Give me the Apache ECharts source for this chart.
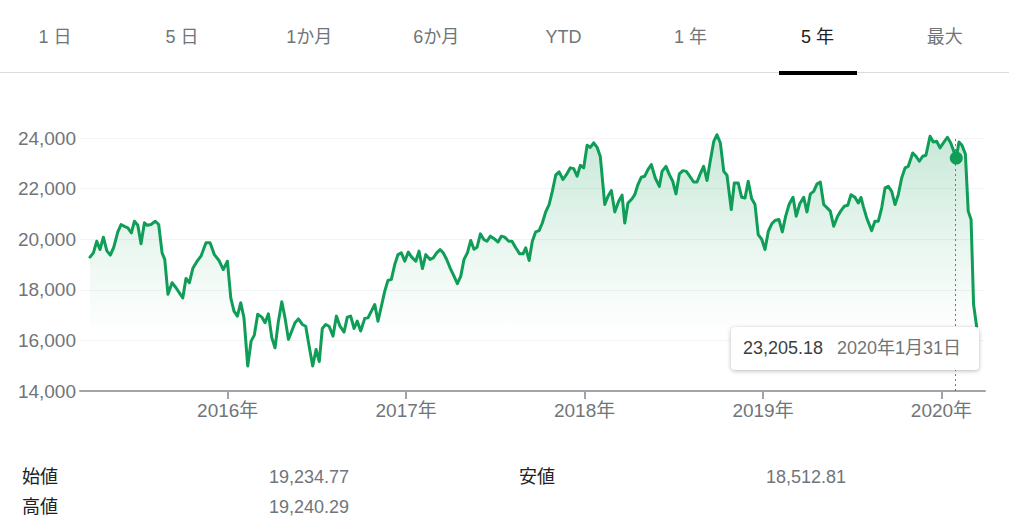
<!DOCTYPE html>
<html><head><meta charset="utf-8">
<script src="https://cdn.jsdelivr.net/npm/echarts@6/dist/echarts.min.js"></script>
<style>
html,body{margin:0;padding:0;background:#fff;}
body{width:1009px;height:519px;overflow:hidden;position:relative;font-family:"Liberation Sans",Arial,"Noto Sans CJK JP",sans-serif;}
#chart{position:absolute;left:0;top:0;width:1009px;height:519px;}
.tab{position:absolute;top:26px;font-size:18px;line-height:22px;color:#70757a;transform:translateX(-50%);white-space:nowrap;}
.tab.sel{color:#202124;}
#sep{position:absolute;left:0;top:72px;width:1009px;height:1px;background:#dadce0;}
#bar{position:absolute;left:779px;top:71px;width:78px;height:4px;background:#000;}
.st{position:absolute;font-size:18px;line-height:20px;white-space:nowrap;}
.lbl{color:#202124;}
.val{color:#70757a;}
#tip{position:absolute;left:731px;top:327px;width:248px;height:43px;background:#fff;border-radius:4px;box-shadow:0 1px 4px rgba(0,0,0,0.28);font-size:18px;line-height:43px;white-space:nowrap;}
#tip .p{position:absolute;left:12px;color:#3c4043;}
#tip .d{position:absolute;left:106px;color:#70757a;}
</style></head>
<body>
<div id="chart"></div>
<div id="hdr"></div>
<div id="sep"></div><div id="bar"></div>
<div id="stats"></div>
<div id="tip"><span class="p"></span><span class="d"></span></div>
<script>
// Tabs
const tabs = ['1 日','5 日','1か月','6か月','YTD','1 年','5 年','最大'];
const selectedTab = '5 年';
// Stats
const statLabels = ['始値','安値','高値'];
const statValues = ['19,234.77','18,512.81','19,240.29'];
// Highlighted point
const tipDate = 2020.083;
const tipValue = 23205.18;
const tipDateText = '2020年1月31日';
// X ticks (years)
const yearTicks = [2016, 2017, 2018, 2019, 2020];
// Series: date (decimal year) and Nikkei weekly close
const years = [
2015.228,2015.247,2015.266,2015.284,2015.303,2015.322,2015.342,2015.361,2015.384,2015.402,
2015.421,2015.440,2015.460,2015.477,2015.496,2015.514,2015.533,2015.548,2015.570,2015.594,
2015.613,2015.632,2015.647,2015.665,2015.688,2015.710,2015.729,2015.748,2015.766,2015.785,
2015.804,2015.828,2015.850,2015.878,2015.901,2015.925,2015.951,2015.975,2015.998,2016.017,
2016.035,2016.054,2016.073,2016.091,2016.112,2016.131,2016.149,2016.168,2016.191,2016.209,
2016.228,2016.247,2016.265,2016.284,2016.303,2016.321,2016.340,2016.359,2016.377,2016.396,
2016.418,2016.437,2016.456,2016.476,2016.495,2016.513,2016.530,2016.549,2016.568,2016.590,
2016.609,2016.629,2016.652,2016.670,2016.689,2016.708,2016.726,2016.745,2016.768,2016.786,
2016.805,2016.824,2016.842,2016.861,2016.880,2016.898,2016.917,2016.936,2016.954,2016.973,
2016.992,2017.012,2017.031,2017.054,2017.072,2017.091,2017.110,2017.134,2017.152,2017.171,
2017.190,2017.208,2017.227,2017.246,2017.268,2017.287,2017.306,2017.324,2017.343,2017.362,
2017.380,2017.397,2017.416,2017.435,2017.453,2017.472,2017.491,2017.515,2017.533,2017.552,
2017.575,2017.593,2017.614,2017.636,2017.655,2017.670,2017.689,2017.707,2017.726,2017.745,
2017.763,2017.782,2017.801,2017.819,2017.838,2017.857,2017.879,2017.898,2017.920,2017.939,
2017.958,2017.976,2017.995,2018.014,2018.032,2018.051,2018.070,2018.088,2018.113,2018.131,
2018.150,2018.169,2018.191,2018.210,2018.225,2018.243,2018.266,2018.281,2018.299,2018.318,
2018.337,2018.355,2018.374,2018.396,2018.419,2018.434,2018.456,2018.475,2018.494,2018.512,
2018.531,2018.551,2018.570,2018.589,2018.611,2018.630,2018.648,2018.667,2018.686,2018.704,
2018.724,2018.742,2018.761,2018.780,2018.798,2018.822,2018.839,2018.861,2018.880,2018.899,
2018.917,2018.936,2018.955,2018.973,2018.993,2019.011,2019.030,2019.049,2019.067,2019.089,
2019.108,2019.127,2019.146,2019.168,2019.186,2019.206,2019.228,2019.246,2019.265,2019.284,
2019.302,2019.321,2019.340,2019.359,2019.377,2019.396,2019.418,2019.437,2019.455,2019.475,
2019.493,2019.515,2019.534,2019.549,2019.562,2019.581,2019.609,2019.627,2019.646,2019.665,
2019.684,2019.702,2019.721,2019.740,2019.758,2019.777,2019.796,2019.814,2019.839,2019.857,
2019.876,2019.895,2019.913,2019.936,2019.954,2019.973,2019.992,2020.010,2020.033,2020.052,
2020.083,2020.098,2020.115,2020.134,2020.150,2020.166,2020.180,2020.197
];
const values = [
19290,19460,19920,19590,20080,19550,19370,19680,20290,20580,
20510,20450,20250,20710,20550,19820,20650,20550,20580,20710,
20580,19460,19200,17820,18280,18080,17880,17680,18450,18280,
18840,19130,19330,19860,19860,19390,19160,18800,19130,17680,
17160,16960,17490,16890,14990,15970,16210,17030,16920,16700,
17050,16100,15710,16760,17530,16890,16040,16370,16700,16850,
16630,16560,15780,14990,15640,15160,16470,16630,16560,16170,
16960,16560,16330,16920,16960,16470,16760,16370,16870,16890,
17160,17420,16760,17350,17950,18370,18410,19000,19390,19460,
19130,19490,19290,19130,19530,18840,19390,19200,19260,19460,
19590,19460,19200,18870,18540,18240,18540,19200,19460,19950,
19600,19680,20210,19990,19920,20120,20030,19890,20120,20080,
19920,19920,19660,19420,19420,19660,19160,19920,20290,20340,
20640,21080,21370,21890,22530,22660,22360,22550,22820,22790,
22490,22920,22820,23710,23630,23810,23630,23270,21370,21700,
21920,21080,21500,21740,20640,21430,21600,21760,22160,22450,
22490,22750,22950,22420,22090,22680,22880,22550,22290,21790,
22580,22710,22680,22490,22260,22260,22580,22880,22320,23080,
23870,24130,23800,22680,22530,21170,22220,22220,21660,21630,
22290,21610,21370,20180,19990,19590,20320,20610,20740,20780,
20290,20910,21370,21660,20910,21400,21660,21080,21790,21890,
22180,22260,21370,21240,21110,20510,20910,21130,21300,21340,
21760,21660,21430,21650,21300,20840,20340,20710,20710,21240,
22030,22090,21890,21370,21760,22420,22820,22880,23410,23280,
23080,23280,23320,24070,23840,23870,23610,23800,24030,23800,
23205.18,23840,23710,23370,21110,20780,17420,16550
];

// Build header / stats / tooltip DOM text
const tabCenters0 = 55, tabStep = 127.1;
const hdr = document.getElementById('hdr');
tabs.forEach((t, i) => {
  const d = document.createElement('div');
  d.className = 'tab' + (t === selectedTab ? ' sel' : '');
  d.style.left = (tabCenters0 + tabStep * i) + 'px';
  d.textContent = t;
  hdr.appendChild(d);
});
const stats = document.getElementById('stats');
const statPos = [[22, 269, 467], [519, 766, 467], [22, 269, 497]];
statLabels.forEach((l, i) => {
  const [lx, vx, y] = statPos[i];
  const a = document.createElement('div'); a.className = 'st lbl'; a.style.left = lx + 'px'; a.style.top = y + 'px'; a.textContent = l; stats.appendChild(a);
  const b = document.createElement('div'); b.className = 'st val'; b.style.left = vx + 'px'; b.style.top = y + 'px'; b.textContent = statValues[i]; stats.appendChild(b);
});
document.querySelector('#tip .p').textContent = tipValue.toLocaleString('en-US', {minimumFractionDigits: 2});
document.querySelector('#tip .d').textContent = tipDateText;

const chart = echarts.init(document.getElementById('chart'), null, {renderer: 'svg'});
const FONT = '"Liberation Sans", Arial, "Noto Sans CJK JP", sans-serif';
chart.setOption({
  animation: false,
  grid: {left: 80, right: 24, top: 138, bottom: 128},
  xAxis: {
    type: 'value', min: 2015.172, max: 2020.244,
    axisLine: {lineStyle: {color: '#a0a4a8', width: 2}},
    axisTick: {customValues: yearTicks, length: 8, lineStyle: {color: '#a0a4a8', width: 2}},
    axisLabel: {customValues: yearTicks, formatter: v => v + '年', color: '#70757a', fontSize: 19, fontFamily: FONT, margin: 10},
    splitLine: {show: false}
  },
  yAxis: {
    type: 'value', min: 14000, max: 24000, interval: 2000,
    axisLine: {show: false}, axisTick: {show: false},
    axisLabel: {formatter: v => v.toLocaleString('en-US'), color: '#70757a', fontSize: 19, fontFamily: FONT, margin: 4},
    splitLine: {lineStyle: {color: '#f1f3f4', width: 1}}
  },
  series: [{
    type: 'line',
    data: years.map((y, i) => [y, values[i]]),
    symbol: 'none', clip: false,
    lineStyle: {color: '#0f9d58', width: 3, join: 'round', cap: 'round'},
    areaStyle: {color: new echarts.graphic.LinearGradient(0, 0, 0, 1, [
      {offset: 0, color: 'rgba(15,157,88,0.33)'},
      {offset: 0.45, color: 'rgba(15,157,88,0.12)'},
      {offset: 0.78, color: 'rgba(15,157,88,0)'}
    ])},
    markLine: {
      silent: true, symbol: 'none', label: {show: false},
      lineStyle: {color: '#70757a', type: [2, 3], width: 1},
      data: [{xAxis: tipDate}]
    },
    z: 2
  }, {
    type: 'scatter',
    data: [[tipDate, tipValue]],
    symbolSize: 13,
    itemStyle: {color: '#0f9d58', opacity: 1},
    z: 5
  }]
});
</script>
</body></html>
